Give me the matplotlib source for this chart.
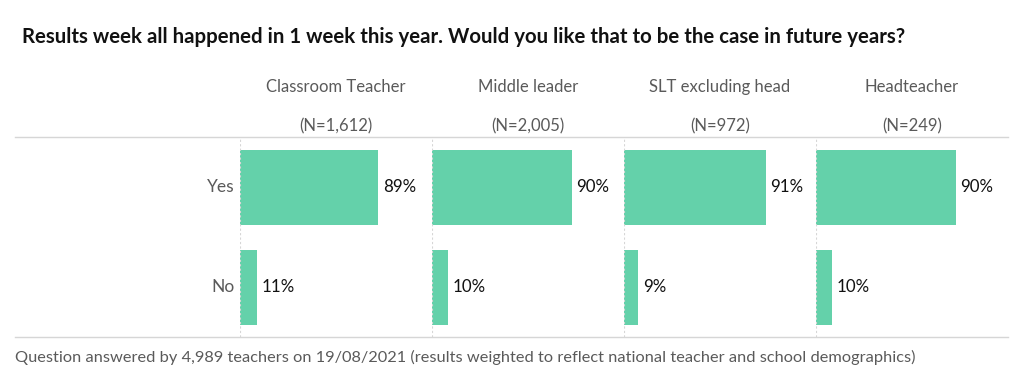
import matplotlib.pyplot as plt

plt.rcParams['font.family'] = ['Lato', 'DejaVu Sans']

# Data
groups = ["Classroom Teacher", "Middle leader", "SLT excluding head", "Headteacher"]
counts = ["(N=1,612)", "(N=2,005)", "(N=972)", "(N=249)"]
answers = ["Yes", "No"]
yes_pct = [89, 90, 91, 90]
no_pct = [11, 10, 9, 10]

bar_col = "#64d1aa"
grey = "#5a5a5a"
line_col = "#d6d6d6"

W, H = 1024, 384
fig = plt.figure(figsize=(W / 100, H / 100), dpi=100)

def fx(px):
    return px / W

def fy(py):
    return 1 - py / H

top, bot = 137, 337
left0, pw = 240, 192

fig.text(fx(22), fy(37), "Results week all happened in 1 week this year. Would you like that to be the case in future years?",
         fontsize=14.7, fontweight='bold', color='#111111', va='center', ha='left')

# label column
lab = fig.add_axes([fx(15), fy(bot), fx(left0 - 15), (bot - top) / H])
lab.set_xlim(0, 1)
lab.set_ylim(1.5, -0.5)
lab.axis('off')
for i, a in enumerate(answers):
    lab.text(0.975, i, a, ha='right', va='center', fontsize=12.5, color=grey)

# horizontal rules
fig.add_artist(plt.Line2D([fx(15), fx(1008)], [fy(top), fy(top)], color=line_col, lw=1))
fig.add_artist(plt.Line2D([fx(15), fx(1008)], [fy(bot), fy(bot)], color=line_col, lw=1))

for g in range(len(groups)):
    x0 = left0 + pw * g
    ax = fig.add_axes([fx(x0), fy(bot), fx(pw), (bot - top) / H])
    vals = [yes_pct[g], no_pct[g]]
    ax.barh([0, 1], vals, height=0.75, color=bar_col, edgecolor='none')
    ax.set_xlim(0, pw / 1.555)
    ax.set_ylim(1.5, -0.5)
    for sp in ax.spines.values():
        sp.set_visible(False)
    ax.axvline(0, color=line_col, lw=0.8, ls=(0, (2, 2)))
    ax.set_xticks([])
    ax.set_yticks([])
    ax.patch.set_alpha(0)
    for i, v in enumerate(vals):
        ax.text(v + 3, i, f"{v}%", ha='left', va='center', fontsize=12.2, color='#111111')
    cx = fx(x0 + pw * 0.5)
    fig.text(cx, fy(87), groups[g], ha='center', va='center', fontsize=12, color=grey)
    fig.text(cx, fy(126), counts[g], ha='center', va='center', fontsize=12, color=grey)

fig.text(fx(15), fy(357), "Question answered by 4,989 teachers on 19/08/2021 (results weighted to reflect national teacher and school demographics)",
         ha='left', va='center', fontsize=11.8, color=grey)

fig.savefig("out.png", dpi=100, facecolor='white')
